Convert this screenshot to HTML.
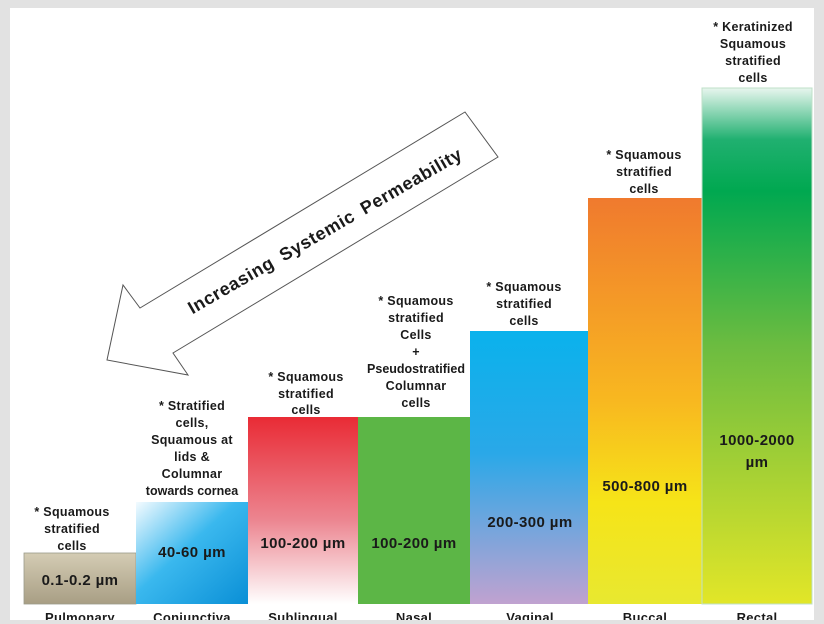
<!DOCTYPE html>
<html><head><meta charset="utf-8"><style>
html,body{margin:0;padding:0;background:#e2e2e2;}
svg{display:block;}
text{font-family:"Liberation Sans",sans-serif;font-weight:bold;fill:#1a1a1a;}
</style></head><body>
<svg width="824" height="624" viewBox="0 0 824 624" xmlns="http://www.w3.org/2000/svg">
<defs>
<linearGradient id="gP" x1="0" y1="0" x2="0" y2="1"><stop offset="0" stop-color="#d4ccb4"/><stop offset="1" stop-color="#a89e84"/></linearGradient>
<linearGradient id="gC" x1="0" y1="0" x2="1" y2="1"><stop offset="0" stop-color="#f4fbff"/><stop offset="0.45" stop-color="#3ab8ee"/><stop offset="1" stop-color="#0a8fd6"/></linearGradient>
<linearGradient id="gS" x1="0" y1="0" x2="0" y2="1"><stop offset="0" stop-color="#e92b35"/><stop offset="0.55" stop-color="#ec8590"/><stop offset="1" stop-color="#ffffff"/></linearGradient>
<linearGradient id="gV" x1="0" y1="0" x2="0" y2="1"><stop offset="0" stop-color="#0ab2ec"/><stop offset="0.45" stop-color="#2aa8e8"/><stop offset="1" stop-color="#c0a2d0"/></linearGradient>
<linearGradient id="gB" x1="0" y1="0" x2="0" y2="1"><stop offset="0" stop-color="#f07a2e"/><stop offset="0.5" stop-color="#f8b820"/><stop offset="0.75" stop-color="#f6e418"/><stop offset="1" stop-color="#e8e830"/></linearGradient>
<linearGradient id="gR" x1="0" y1="0" x2="0" y2="1"><stop offset="0" stop-color="#e8f6ee"/><stop offset="0.1" stop-color="#20b070"/><stop offset="0.2" stop-color="#00a850"/><stop offset="0.5" stop-color="#6cbc40"/><stop offset="1" stop-color="#e2e628"/></linearGradient>
</defs>
<rect x="10" y="8" width="804" height="612" fill="#ffffff"/>
<rect x="24" y="553" width="112" height="51" fill="url(#gP)" stroke="#9a9a8a" stroke-width="0.8"/>
<rect x="136" y="502" width="112" height="102" fill="url(#gC)"/>
<rect x="248" y="417" width="110" height="187" fill="url(#gS)"/>
<rect x="358" y="417" width="112" height="187" fill="#5cb646"/>
<rect x="470" y="331" width="118" height="273" fill="url(#gV)"/>
<rect x="588" y="198" width="114" height="406" fill="url(#gB)"/>
<rect x="702" y="88" width="110" height="516" fill="url(#gR)" stroke="#bfe0c8" stroke-width="1"/>
<polygon points="465,112 498,157 173,353 188,375 107,360 123,285 140,308" fill="#fff" stroke="#555" stroke-width="1"/>
<text x="325" y="237" font-size="18" letter-spacing="0.6" word-spacing="4" text-anchor="middle" transform="rotate(-30 325 231)">Increasing Systemic Permeability</text>
<g font-size="12.5" letter-spacing="0.3" text-anchor="middle">
<text x="72" y="516">* Squamous</text><text x="72" y="533">stratified</text><text x="72" y="550">cells</text>
<text x="192" y="410">* Stratified</text><text x="192" y="427">cells,</text><text x="192" y="444">Squamous at</text><text x="192" y="461">lids &amp;</text><text x="192" y="478">Columnar</text><text x="192" y="495" letter-spacing="0">towards cornea</text>
<text x="306" y="381">* Squamous</text><text x="306" y="398">stratified</text><text x="306" y="414">cells</text>
<text x="416" y="305">* Squamous</text><text x="416" y="322">stratified</text><text x="416" y="339">Cells</text><text x="416" y="356">+</text><text x="416" y="373" letter-spacing="0">Pseudostratified</text><text x="416" y="390">Columnar</text><text x="416" y="407">cells</text>
<text x="524" y="291">* Squamous</text><text x="524" y="308">stratified</text><text x="524" y="325">cells</text>
<text x="644" y="159">* Squamous</text><text x="644" y="176">stratified</text><text x="644" y="193">cells</text>
<text x="753" y="31">* Keratinized</text><text x="753" y="48">Squamous</text><text x="753" y="65">stratified</text><text x="753" y="82">cells</text>
</g>
<g font-size="15" letter-spacing="0.4" text-anchor="middle">
<text x="80" y="585">0.1-0.2 µm</text>
<text x="192" y="557">40-60 µm</text>
<text x="303" y="548">100-200 µm</text>
<text x="414" y="548">100-200 µm</text>
<text x="530" y="527">200-300 µm</text>
<text x="645" y="491">500-800 µm</text>
<text x="757" y="445">1000-2000</text>
<text x="757" y="467">µm</text>
</g>
<g font-size="13" letter-spacing="0.3" text-anchor="middle">
<text x="80" y="622">Pulmonary</text><text x="192" y="622">Conjunctiva</text><text x="303" y="622">Sublingual</text><text x="414" y="622">Nasal</text><text x="530" y="622">Vaginal</text><text x="645" y="622">Buccal</text><text x="757" y="622">Rectal</text>
</g>
<rect x="0" y="620" width="824" height="4" fill="#e2e2e2"/>
</svg>
</body></html>
